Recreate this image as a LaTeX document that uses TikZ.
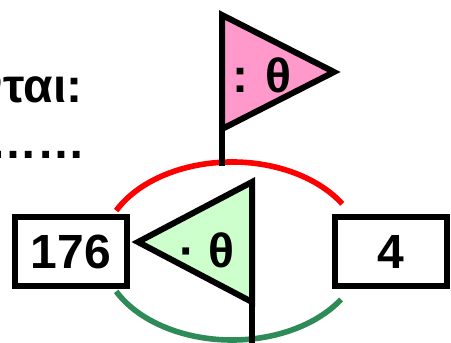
\documentclass[tikz,border=0pt]{standalone}
\usepackage{fontspec}
\setmainfont{Liberation Sans}
\definecolor{flagpink}{HTML}{FF99CC}
\definecolor{flaggreen}{HTML}{CCFFCC}
\definecolor{arcgreen}{HTML}{2E8B57}

\begin{document}
\begin{tikzpicture}[x=0.5pt, y=0.5pt, font=\fontsize{24}{29}\selectfont\bfseries,
  valbox/.style={draw, line width=3pt, minimum width=56pt, minimum height=34.5pt, inner sep=0pt},
  flagline/.style={line width=3pt, line join=miter},
  arcline/.style={line width=2.8pt}]
  \clip (0,0) rectangle (451,343);
  % text at the top left
  \node[anchor=base east, inner sep=0pt] (say) at (83,240) {νται:};
  \node[anchor=base east, inner sep=0pt] (dots) at (86,184) {……};
  % the two values
  \foreach \n/\x/\v in {left/71/176, right/391/4}
    \node[valbox] (\n) at (\x,91.5) {\v};
  % arcs between them
  \coordinate (mid) at (232,92);
  \draw[arcline, red] ([shift={(153:130 and 89)}]mid) arc[start angle=153, end angle=32, x radius=130, y radius=89];
  \draw[arcline, arcgreen] ([shift={(207:130 and 89)}]mid) arc[start angle=207, end angle=327, x radius=130, y radius=89];
  % pink flag
  \coordinate (ptop) at (222,328);
  \coordinate (pfoot) at (222,177);
  \draw[flagline, fill=flagpink] (ptop) -- (334,271) -- (222,214) -- cycle;
  \draw[flagline] (ptop) -- (pfoot);
  \node (ptext) at (262,268) {: θ};
  % green flag
  \coordinate (gtop) at (252,161);
  \coordinate (gfoot) at (252,0);
  \draw[flagline, fill=flaggreen] (gtop) -- (138,101) -- (252,41) -- cycle;
  \draw[flagline] (gtop) -- (gfoot);
  \node (gtext) at (207,93) {· θ};
\end{tikzpicture}
\end{document}
